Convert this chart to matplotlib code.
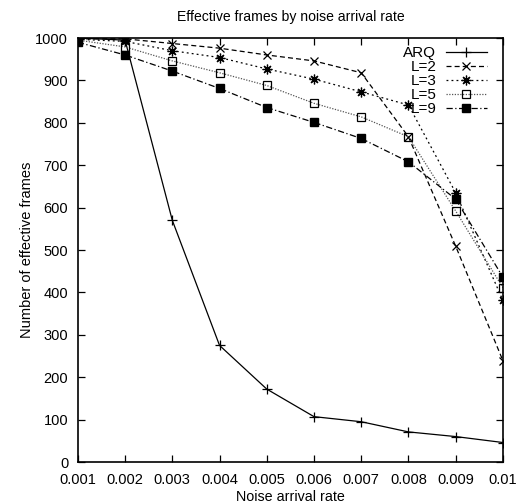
import matplotlib
matplotlib.use('Agg')
import matplotlib.pyplot as plt

plt.rcParams['font.family'] = ['Liberation Sans', 'DejaVu Sans']
plt.rcParams['font.size'] = 10

# ── Data ──────────────────────────────────────────────────────────────────────
rate = [0.001, 0.002, 0.003, 0.004, 0.005, 0.006, 0.007, 0.008, 0.009, 0.01]
arq  = [1000, 995, 570, 275, 172, 107, 95, 71, 60, 46]
l2   = [998, 998, 987, 976, 960, 946, 918, 767, 509, 239]
l3   = [997, 992, 970, 954, 927, 903, 873, 842, 635, 381]
l5   = [995, 979, 946, 918, 888, 846, 814, 767, 592, 411]
l9   = [990, 960, 922, 881, 836, 801, 763, 708, 620, 436]

xticks = rate
xtick_labels = ['0.001', '0.002', '0.003', '0.004', '0.005',
                '0.006', '0.007', '0.008', '0.009', '0.01']
yticks = list(range(0, 1001, 100))

fig = plt.figure(figsize=(5.19, 5.04), dpi=100)
ax = fig.add_axes([0.150, 0.0833, 0.819, 0.8413])

ax.plot(rate, arq, color='black', lw=0.9, ls='-', marker='+', ms=7, mew=0.9,
        label='ARQ')
ax.plot(rate, l2, color='black', lw=0.9, ls=(0, (4, 2.5)), marker='x', ms=6,
        mew=0.9, label='L=2')
ax.plot(rate, l3, color='black', lw=0.9, ls=(0, (1.5, 2.5)), marker=(8, 2, 0),
        ms=7, mew=0.9, label='L=3')
ax.plot(rate, l5, color='#555555', lw=0.9, ls=(0, (1, 1.2)), marker='s', ms=6,
        mfc='none', mec='black', mew=0.9, label='L=5')
ax.plot(rate, l9, color='black', lw=0.9, ls=(0, (5, 2, 1, 2)), marker='s', ms=6,
        mfc='black', mec='black', label='L=9')

ax.set_xlim(0.001, 0.01)
ax.set_ylim(0, 1000)
ax.set_xticks(xticks)
ax.set_xticklabels(xtick_labels)
ax.set_yticks(yticks)
ax.tick_params(direction='in', top=True, right=True, length=5, width=0.9,
               labelsize=10.5)
ax.tick_params(axis='x', pad=8)
ax.tick_params(axis='y', pad=7)
for s in ax.spines.values():
    s.set_linewidth(1.2)

ax.set_title('Effective frames by noise arrival rate', fontsize=10.1, pad=12)
ax.set_xlabel('Noise arrival rate', fontsize=10.3)
ax.set_ylabel('Number of effective frames', fontsize=10.5)
ax.xaxis.set_label_coords(0.5, -0.065)
ax.yaxis.set_label_coords(-0.103, 0.5)

leg = ax.legend(loc='upper right', frameon=False, markerfirst=False,
                numpoints=1, handlelength=2.7, labelspacing=0.0,
                borderaxespad=0.0, borderpad=0.0, handletextpad=0.6,
                fontsize=11, bbox_to_anchor=(0.962, 0.981))

fig.savefig('out.png', dpi=100)
